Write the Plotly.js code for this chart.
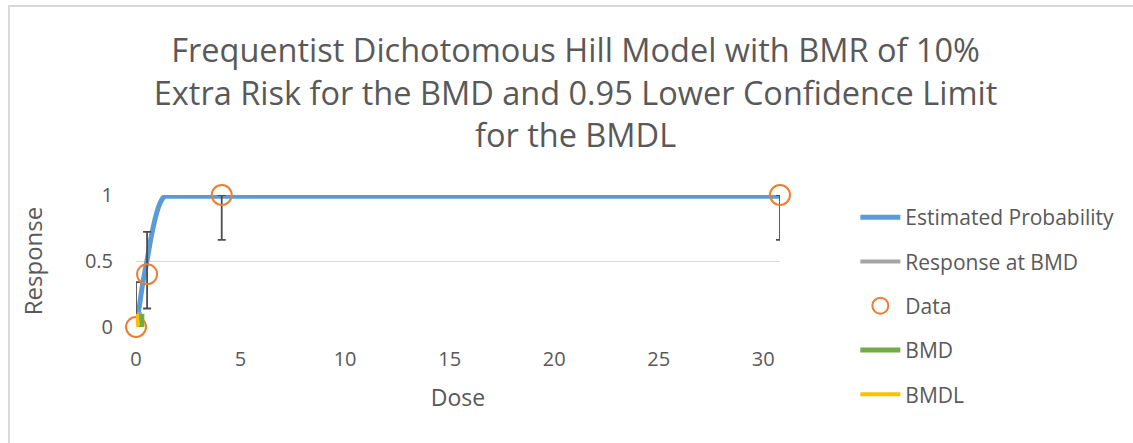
<!DOCTYPE html>
<html>
<head>
<meta charset="utf-8">
<script src="https://cdn.plot.ly/plotly-3.0.1.min.js"></script>
<style>
  html, body { margin: 0; padding: 0; background: #fff; }
  #wrap { position: relative; width: 1133px; height: 443px; overflow: hidden; }
  #chart { width: 1133px; height: 443px; }
  #frame { position: absolute; left: 8px; top: 5px; width: 1140px; height: 460px;
           border-left: 2px solid #D9D9D9; border-top: 2px solid #D9D9D9; pointer-events: none; }
</style>
</head>
<body>
<div id="wrap">
  <div id="chart"></div>
  <div id="frame"></div>
</div>
<script>
// Estimated probability curve (Hill model)
const curveDose = [0, 0.1, 0.2, 0.3, 0.4, 0.5, 0.6, 0.7, 0.8, 0.9, 1.0, 1.1, 1.2, 1.3, 1.4, 1.6, 2, 5, 10, 15, 20, 25, 30.8];
const curveResp = [0, 0.1, 0.2, 0.31, 0.4, 0.48, 0.57, 0.66, 0.74, 0.81, 0.87, 0.92, 0.955, 0.98, 0.99, 0.99, 0.99, 0.99, 0.99, 0.99, 0.99, 0.99, 0.99];

// Observed data with confidence limits
const dataDose = [0, 0.53, 4.1, 30.8];
const dataResp = [0, 0.4, 1, 1];
const dataLower = [0, 0.14, 0.66, 0.66];
const dataUpper = [0.34, 0.72, 1, 1];

// BMD / BMDL
const bmd = 0.28;
const bmdl = 0.05;
const bmr = 0.1;

const xTicks = [0, 5, 10, 15, 20, 25, 30];
const yTicks = [0, 0.5, 1];

const errPlus = dataUpper.map((u, i) => u - dataResp[i]);
const errMinus = dataResp.map((r, i) => r - dataLower[i]);

const FONT = 'Open Sans, Calibri, sans-serif';
const TXT = '#595959';

const traces = [
  {
    name: 'Estimated Probability', x: curveDose, y: curveResp, mode: 'lines',
    line: { color: '#5B9BD5', width: 5, shape: 'spline', smoothing: 0.6 },
    legendgroup: 'a', cliponaxis: false
  },
  {
    name: 'Response at BMD', x: [0, bmd], y: [bmr, bmr], mode: 'lines',
    line: { color: '#A5A5A5', width: 4 }, legendgroup: 'b', cliponaxis: false
  },
  {
    name: 'Data', x: dataDose, y: dataResp, mode: 'markers',
    marker: { symbol: 'circle-open', size: 20, color: '#ED7D31', line: { width: 2, color: '#ED7D31' } },
    error_y: { type: 'data', symmetric: false, array: errPlus, arrayminus: errMinus,
               color: '#4D4D4D', thickness: 1.8, width: 4 },
    legendgroup: 'c', cliponaxis: false
  },
  {
    name: 'BMD', x: [bmd, bmd], y: [0, bmr], mode: 'lines',
    line: { color: '#70AD47', width: 5 }, legendgroup: 'd', cliponaxis: false
  },
  {
    name: 'BMDL', x: [bmdl, bmdl], y: [0, bmr], mode: 'lines',
    line: { color: '#FFC000', width: 4 }, legendgroup: 'e', cliponaxis: false
  }
];

const layout = {
  width: 1133, height: 443,
  paper_bgcolor: '#fff', plot_bgcolor: '#fff',
  margin: { l: 136, r: 353, t: 195, b: 116 },
  font: { family: FONT, color: TXT },
  title: {
    text: 'Frequentist Dichotomous Hill Model with BMR of 10%<br>Extra Risk for the BMD and 0.95 Lower Confidence Limit<br>for the BMDL',
    font: { family: FONT, size: 32.5, color: TXT },
    x: 0.508, xanchor: 'center', y: 0.859, yanchor: 'middle', xref: 'container', yref: 'container'
  },
  xaxis: {
    range: [0, 30.8], tickvals: xTicks, ticktext: xTicks.map(String),
    showgrid: false, zeroline: false, showline: false, ticks: '',
    tickfont: { size: 20, color: TXT, family: FONT }, ticklabelstandoff: 18,
    title: { text: 'Dose', font: { size: 23, color: TXT, family: FONT }, standoff: 18 }
  },
  yaxis: {
    range: [0, 1], tickvals: yTicks, ticktext: yTicks.map(String),
    showgrid: true, gridcolor: '#D9D9D9', gridwidth: 1, zeroline: false, showline: false, ticks: '',
    tickfont: { size: 20, color: TXT, family: FONT }, ticklabelstandoff: 22,
    title: { text: 'Response', font: { size: 24, color: TXT, family: FONT }, standoff: 35 }
  },
  legend: {
    x: 1.117, xanchor: 'left', y: 0.985, yanchor: 'top',
    font: { size: 21, color: TXT, family: FONT },
    traceorder: 'grouped', tracegroupgap: 14, bgcolor: 'rgba(0,0,0,0)', itemwidth: 40,
    maxheight: 440
  },
  showlegend: true
};

Plotly.newPlot('chart', traces, layout, { displayModeBar: false, staticPlot: true });
</script>
</body>
</html>
